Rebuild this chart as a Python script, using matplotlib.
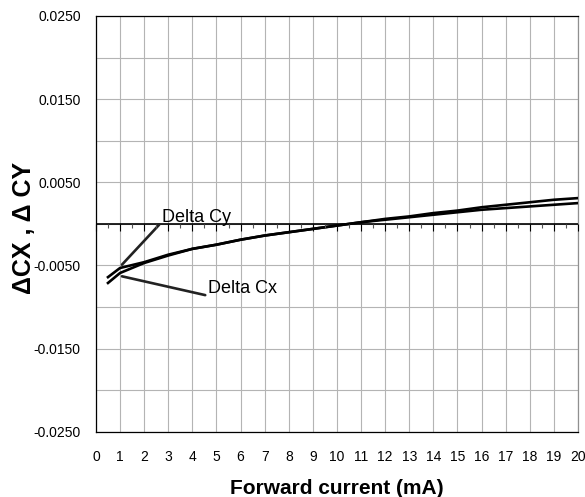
import matplotlib
matplotlib.use("Agg")
import matplotlib.pyplot as plt
from matplotlib.ticker import MultipleLocator, FixedLocator, FuncFormatter

plt.rcParams['font.family'] = ['Liberation Sans', 'DejaVu Sans']

current = [0.5, 1, 2, 3, 4, 5, 6, 7, 8, 9, 10, 11, 12, 13, 14, 15, 16, 17, 18, 19, 20]
delta_cx = [-0.0071, -0.0059, -0.0047, -0.0038, -0.0030, -0.0025, -0.0019, -0.0014,
            -0.0010, -0.0006, -0.0002, 0.0002, 0.0006, 0.0009, 0.0013, 0.0016,
            0.0020, 0.0023, 0.0026, 0.0029, 0.0031]
delta_cy = [-0.0064, -0.0053, -0.0046, -0.0037, -0.0030, -0.0025, -0.0019, -0.0014,
            -0.0010, -0.0006, -0.0002, 0.0002, 0.0005, 0.0008, 0.0011, 0.0014,
            0.0017, 0.0019, 0.0021, 0.0023, 0.0025]
y_ticks = [0.025, 0.015, 0.005, -0.005, -0.015, -0.025]
x_ticks = list(range(0, 21))

fig = plt.figure(figsize=(5.85, 4.97), dpi=100)
ax = fig.add_axes([0.164, 0.131, 0.824, 0.837])

ax.plot(current, delta_cx, color='black', lw=1.9, zorder=4)
ax.plot(current, delta_cy, color='black', lw=1.9, zorder=4)

ax.set_xlim(0, 20)
ax.set_ylim(-0.025, 0.025)
ax.xaxis.set_major_locator(FixedLocator(x_ticks))
ax.yaxis.set_major_locator(FixedLocator(y_ticks))
ax.yaxis.set_minor_locator(MultipleLocator(0.005))
ax.yaxis.set_major_formatter(FuncFormatter(lambda v, p: f"{v:.4f}"))
ax.grid(True, which='both', color='#b4b4b4', lw=0.8, zorder=0)
ax.tick_params(axis='both', which='both', length=0, labelsize=10)
ax.tick_params(axis='x', pad=13)
ax.tick_params(axis='y', pad=11)
for s in ax.spines.values():
    s.set_color('black')
    s.set_linewidth(0.9)
ax.spines['right'].set_color('#909090')

# zero axis line with ticks
ax.axhline(0, color='black', lw=1.2, zorder=3)
ax2 = ax.twiny()
ax2.set_xlim(0, 20)
for k in ['top', 'left', 'right']:
    ax2.spines[k].set_visible(False)
ax2.spines['bottom'].set_position(('data', 0))
ax2.spines['bottom'].set_visible(False)
ax2.xaxis.set_ticks_position('bottom')
ax2.xaxis.set_major_locator(MultipleLocator(1))
ax2.xaxis.set_minor_locator(MultipleLocator(0.5))
ax2.tick_params(axis='x', which='major', length=5, direction='out', color='black', width=0.8, labelbottom=False)
ax2.tick_params(axis='x', which='minor', length=3, direction='out', color='#555555', width=0.8)

ax.set_xlabel('Forward current (mA)', fontsize=15, fontweight='bold', labelpad=11)
ax.set_ylabel('ΔCX , Δ CY', fontsize=18, fontweight='bold')
ax.yaxis.set_label_coords(-0.125, 0.49)

ax.annotate('Delta Cy', xy=(1.08, -0.0049), xytext=(2.74, 0.0008),
            fontsize=13, va='center', ha='left',
            arrowprops=dict(arrowstyle='-', color='#222222', lw=1.9, shrinkA=0, shrinkB=0,
                            relpos=(-0.02, 0.15)))
ax.annotate('Delta Cx', xy=(1.08, -0.0063), xytext=(4.65, -0.0078),
            fontsize=13, va='center', ha='left',
            arrowprops=dict(arrowstyle='-', color='#222222', lw=1.9, shrinkA=0, shrinkB=0,
                            relpos=(-0.01, 0.1)))

fig.savefig('out.png', dpi=100)
